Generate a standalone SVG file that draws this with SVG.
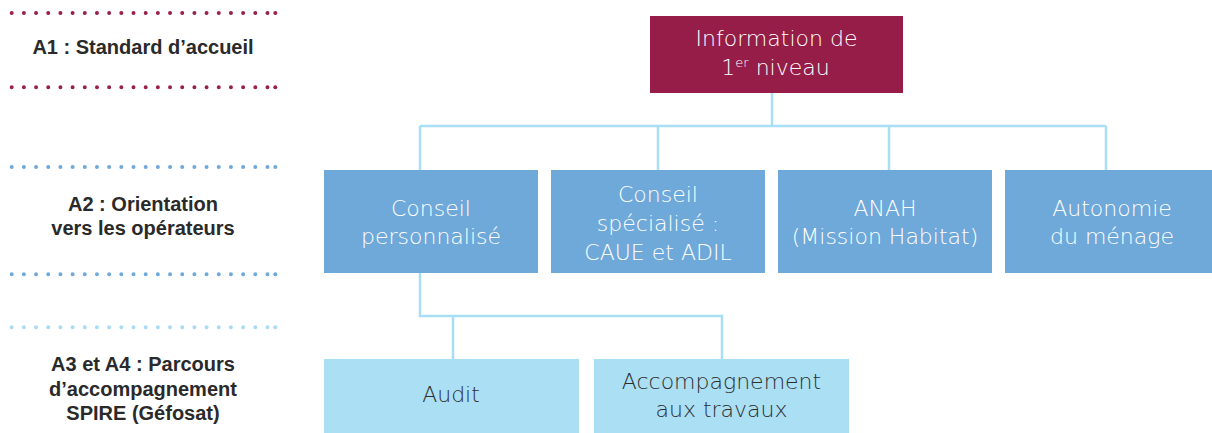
<svg xmlns="http://www.w3.org/2000/svg" width="1212" height="433" viewBox="0 0 1212 433">
  <defs>
    <style>
      .dots { fill: none; stroke-width: 4; stroke-linecap: round; stroke-dasharray: 0 12.18; }
      .maroon { stroke: #97204c; }
      .blue { stroke: #6fa9da; }
      .light { stroke: #a9dcf2; }
      .dm { fill: #97204c; }
      .db { fill: #6fa9da; }
      .dl { fill: #a9dcf2; }
      .lbl { font-family: "Liberation Sans", Arial, sans-serif; font-weight: 700; font-size: 20px; fill: #2a2a2a; text-anchor: middle; }
      .top { fill: #951d48; }
      .mid { fill: #6fa9da; }
      .bot { fill: #aadff4; }
      .t { font-family: "DejaVu Sans", "Open Sans", sans-serif; font-weight: 300; font-size: 22px; text-anchor: middle; }
      .w { fill: #ffffff; }
      .k { fill: #2e2e2e; }
      .conn { fill: none; stroke: #a9dff5; stroke-width: 2.5; }
    </style>
  </defs>

  <g id="levels">
    <line class="dots maroon" x1="11.7" y1="13" x2="268.5" y2="13"/>
    <circle class="dm" cx="275.3" cy="13" r="2"/>
    <line class="dots maroon" x1="11.7" y1="87.3" x2="268.5" y2="87.3"/>
    <circle class="dm" cx="275.3" cy="87.3" r="2"/>
    <line class="dots blue" x1="11.7" y1="167" x2="268.5" y2="167"/>
    <circle class="db" cx="275.3" cy="167" r="2"/>
    <line class="dots blue" x1="11.7" y1="274.3" x2="268.5" y2="274.3"/>
    <circle class="db" cx="275.3" cy="274.3" r="2"/>
    <line class="dots light" x1="11.7" y1="327.3" x2="268.5" y2="327.3"/>
    <circle class="dl" cx="275.3" cy="327.3" r="2"/>

    <text class="lbl" x="143" y="54">A1 : Standard d’accueil</text>
    <text class="lbl" x="143" y="210.5">A2 : Orientation</text>
    <text class="lbl" x="143" y="235">vers les opérateurs</text>
    <text class="lbl" x="143" y="371">A3 et A4 : Parcours</text>
    <text class="lbl" x="143" y="395.5">d’accompagnement</text>
    <text class="lbl" x="143" y="420">SPIRE (Géfosat)</text>
  </g>

  <g id="connectors">
    <path class="conn" d="M772 93 V126 M420 126 H1106 M420 126 V170 M658 126 V170 M889 126 V170 M1106 126 V170"/>
    <path class="conn" d="M420 273 V316 H722 V359 M453 316 V359"/>
  </g>

  <g id="node-info">
    <rect class="top" x="650" y="16" width="253" height="77"/>
    <text class="t w" x="776.5" y="46">Information de</text>
    <text class="t w" x="775.5" y="75">1<tspan font-size="13" dy="-8">er</tspan><tspan dy="8"> niveau</tspan></text>
  </g>

  <g id="node-conseil">
    <rect class="mid" x="324" y="170" width="214" height="103"/>
    <text class="t w" x="431" y="216">Conseil</text>
    <text class="t w" x="431" y="244">personnalisé</text>
  </g>

  <g id="node-specialise">
    <rect class="mid" x="551" y="170" width="214" height="103"/>
    <text class="t w" x="658" y="201.5">Conseil</text>
    <text class="t w" x="658" y="230.5">spécialisé :</text>
    <text class="t w" x="658" y="259.5">CAUE et ADIL</text>
  </g>

  <g id="node-anah">
    <rect class="mid" x="778" y="170" width="214" height="103"/>
    <text class="t w" x="885" y="216">ANAH</text>
    <text class="t w" x="885" y="244">(Mission Habitat)</text>
  </g>

  <g id="node-autonomie">
    <rect class="mid" x="1005" y="170" width="214" height="103"/>
    <text class="t w" x="1112" y="216">Autonomie</text>
    <text class="t w" x="1112" y="244">du ménage</text>
  </g>

  <g id="node-audit">
    <rect class="bot" x="324" y="359" width="255" height="80"/>
    <text class="t k" x="451" y="402">Audit</text>
  </g>

  <g id="node-travaux">
    <rect class="bot" x="594" y="359" width="255" height="80"/>
    <text class="t k" x="721.5" y="388.5">Accompagnement</text>
    <text class="t k" x="721.5" y="416.5">aux travaux</text>
  </g>
</svg>
